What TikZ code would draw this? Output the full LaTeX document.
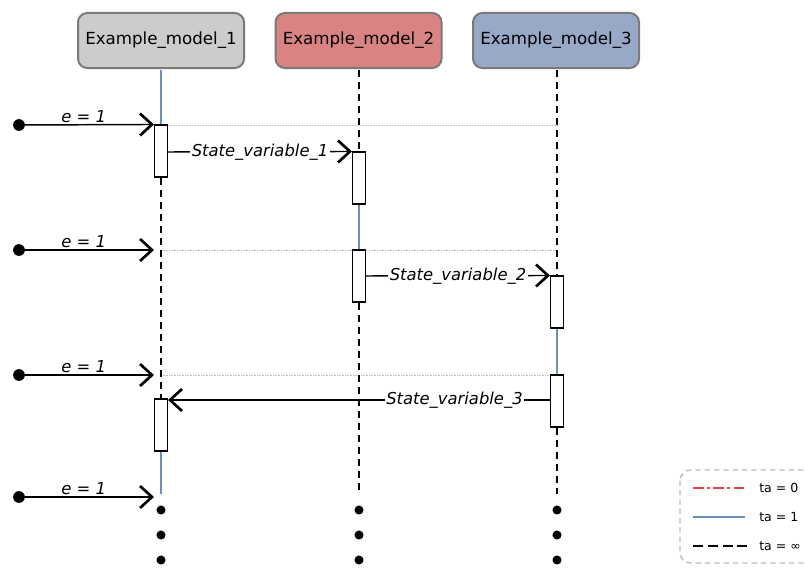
\documentclass[tikz,border=0pt]{standalone}
\usepackage{fontspec}
\setmainfont{DejaVu Sans}
\usetikzlibrary{arrows.meta}
\definecolor{mone}{HTML}{CCCCCC}
\definecolor{mtwo}{HTML}{DA8383}
\definecolor{mthree}{HTML}{97A9C6}
\definecolor{mborder}{HTML}{7A7A7A}
\definecolor{lifeblue}{HTML}{6C8EBF}
\definecolor{legred}{HTML}{E04848}
\definecolor{guide}{HTML}{BBBBBB}
\tikzset{
  model/.style={draw=mborder, line width=1.5pt, rounded corners=7pt,
    minimum width=124.5pt, minimum height=41.25pt, inner sep=0pt,
    font=\fontsize{12.5}{14}\selectfont},
  act/.style={draw, fill=white, line width=0.8pt, minimum width=9.75pt,
    minimum height=39pt, inner sep=0pt},
  lifeinf/.style={line width=1.5pt, dash pattern=on 5.25pt off 3.75pt},
  lifeone/.style={draw=lifeblue, line width=1.1pt},
  guideline/.style={draw=guide, line width=0.6pt, dash pattern=on 0.6pt off 0.6pt},
  msg/.style={line width=1.1pt, -{Straight Barb[length=9pt, width=16.5pt, line width=2pt]}},
  msglabel/.style={fill=white, inner sep=1pt, font=\fontsize{12.3}{14}\selectfont\itshape},
  inlabel/.style={inner sep=1pt, font=\fontsize{12.3}{14}\selectfont\itshape},
  startdot/.style={circle, fill=black, minimum size=8.8pt, inner sep=0pt},
  enddot/.style={circle, fill=black, minimum size=6.8pt, inner sep=0pt},
  legtext/.style={anchor=west, inner sep=0pt, font=\fontsize{9.4}{11}\selectfont}
}
\begin{document}
\begin{tikzpicture}[x=0.75pt, y=-0.75pt]
\useasboundingbox (0,0) rectangle (805,567);

% model heads
\node[model, fill=mone]   (m1) at (161,40.5)   {Example\_model\_1};
\node[model, fill=mtwo]   (m2) at (358.5,40.5) {Example\_model\_2};
\node[model, fill=mthree] (m3) at (556,40.5)   {Example\_model\_3};

% activation box positions
\coordinate (a1c) at (161,151);
\coordinate (a2c) at (359,178);
\coordinate (a3c) at (359,276);
\coordinate (a4c) at (557,302);
\coordinate (a5c) at (557,401);
\coordinate (a6c) at (161,425);

% lifeline ends
\coordinate (e1) at (161,494);
\coordinate (e2) at (359,494);
\coordinate (e3) at (557,494);

% guide lines
\coordinate (g1a) at (168,125); \coordinate (g1b) at (557,125);
\coordinate (g2a) at (161,250); \coordinate (g2b) at (557,250);
\coordinate (g3a) at (161,375); \coordinate (g3b) at (557,375);
\draw[guideline] (g1a) -- (g1b);
\draw[guideline] (g2a) -- (g2b);
\draw[guideline] (g3a) -- (g3b);

% activation nodes
\node[act] (a1) at (a1c) {};
\node[act] (a2) at (a2c) {};
\node[act] (a3) at (a3c) {};
\node[act] (a4) at (a4c) {};
\node[act] (a5) at (a5c) {};
\node[act] (a6) at (a6c) {};

% lifelines
\draw[lifeone] (161,70) -- (a1.north);
\draw[lifeinf] (a1.south) -- (a6.north);
\draw[lifeone] (a6.south) -- (e1);

\draw[lifeinf] (359,70) -- (a2.north);
\draw[lifeone] (a2.south) -- (a3.north);
\draw[lifeinf] (a3.south) -- (e2);

\draw[lifeinf] (557,70) -- (a4.north);
\draw[lifeone] (a4.south) -- (a5.north);
\draw[lifeinf] (a5.south) -- (e3);

% redraw activation boxes on top
\node[act] at (a1c) {};
\node[act] at (a2c) {};
\node[act] at (a3c) {};
\node[act] at (a4c) {};
\node[act] at (a5c) {};
\node[act] at (a6c) {};

% continuation dots
\foreach \x/\n in {161/1,359/2,557/3}{
  \node[enddot] (d\n a) at (\x,510) {};
  \node[enddot] (d\n b) at (\x,535) {};
  \node[enddot] (d\n c) at (\x,560) {};
}

% external inputs
\node[startdot] (s1) at (19,125) {};
\node[startdot] (s2) at (19,250) {};
\node[startdot] (s3) at (19,375) {};
\node[startdot] (s4) at (19,497) {};
\coordinate (t1) at (a1.north west);
\coordinate (t2) at (154,250);
\coordinate (t3) at (154,375);
\coordinate (t4) at (154,497);
\foreach \i in {1,2,3,4}{
  \draw[msg] (s\i.center) -- node[inlabel, above=0pt, pos=0.48] {e = 1} (t\i);
}

% messages
\draw[msg] (a1.east |- 0,152) -- node[msglabel] {State\_variable\_1} (a2.north west);
\draw[msg] (a3.east |- 0,276) -- node[msglabel] {State\_variable\_2} (a4.north west);
\draw[msg] (a5.west |- 0,400) -- node[msglabel, pos=0.25] {State\_variable\_3} (a6.east |- 0,400);

% legend
\draw[guide, line width=1pt, dash pattern=on 4pt off 3pt, rounded corners=8pt]
  (680,470) rectangle (815,563);
\draw[legred, line width=1.5pt, dash pattern=on 8pt off 2.5pt on 2.2pt off 2.5pt] (693,488) -- (745,488);
\draw[lifeone, line width=1.6pt] (693,517) -- (745,517);
\draw[line width=1.9pt, dash pattern=on 7.5pt off 3.6pt] (693,546) -- (748,546);
\node[legtext] (l1) at (759,488) {ta = 0};
\node[legtext] (l2) at (759,517) {ta = 1};
\node[legtext] (l3) at (759,546) {ta = ∞};
\end{tikzpicture}
\end{document}
